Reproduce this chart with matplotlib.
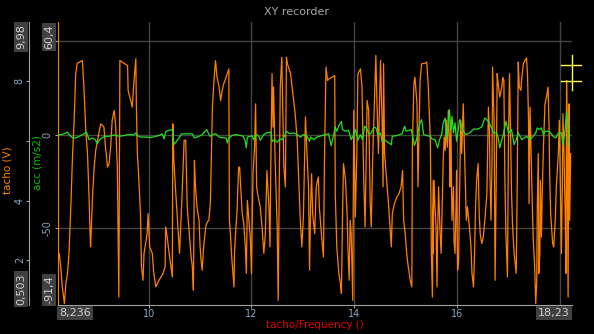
import matplotlib
matplotlib.use("Agg")
import matplotlib.pyplot as plt
from matplotlib.lines import Line2D

# ---- data ----
freq_min, freq_max = 8.236, 18.23
tacho_min, tacho_max = 0.503, 9.98
acc_min, acc_max = -91.4, 60.4

x_ticks = [10, 12, 14, 16, 18]
x_tick_labels = ["10", "12", "14", "16", ""]
tacho_ticks = [2, 4, 6, 8]
tacho_tick_labels = ["2", "4", "", "8"]
acc_ticks = [-50, 0, 50]
acc_tick_labels = ["-50", "0", ""]

tacho_freq = [
    8.26, 8.29, 8.32, 8.36, 8.39, 8.42, 8.45, 8.49, 8.52, 8.55, 8.58, 8.61, 8.71, 8.74, 8.78, 8.81, 8.84, 8.86, 8.87, 8.91,
    8.94, 8.97, 9.04, 9.07, 9.13, 9.16, 9.20, 9.23, 9.26, 9.29, 9.33, 9.36, 9.39, 9.42, 9.44, 9.59, 9.60, 9.65, 9.68, 9.71,
    9.75, 9.76, 9.78, 9.81, 9.84, 9.86, 9.89, 9.91, 9.97, 9.99, 10.02, 10.07, 10.10, 10.14, 10.20, 10.28, 10.32, 10.33, 10.36, 10.39,
    10.46, 10.47, 10.49, 10.52, 10.56, 10.60, 10.64, 10.69, 10.72,
    10.75, 10.78, 10.82, 10.85, 10.87, 10.88, 10.89, 10.91, 10.94, 10.98, 11.00, 11.02, 11.04, 11.07, 11.11, 11.14, 11.17, 11.20,
    11.24, 11.27, 11.30, 11.33, 11.37, 11.40, 11.43, 11.46, 11.53, 11.56, 11.57, 11.59, 11.62, 11.66, 11.67, 11.69, 11.72, 11.75,
    11.77, 11.79, 11.82, 11.85, 11.88, 11.90, 11.92, 11.95, 11.98, 12.00, 12.01, 12.03, 12.06, 12.08, 12.10, 12.12, 12.17, 12.21,
    12.24, 12.27, 12.30, 12.34, 12.36, 12.38, 12.40, 12.42, 12.43, 12.46, 12.50, 12.52, 12.54, 12.56, 12.59, 12.63, 12.66, 12.68,
    12.70, 12.76, 12.79, 12.82, 12.85, 12.89, 12.92, 12.95, 12.98, 13.01, 13.05, 13.08, 13.11,
    13.13, 13.15, 13.17, 13.19, 13.23, 13.26, 13.30, 13.32, 13.36, 13.40, 13.42, 13.45, 13.48, 13.51, 13.57, 13.62, 13.63, 13.66,
    13.70, 13.73, 13.75, 13.77, 13.79, 13.83, 13.86, 13.88, 13.90, 13.92, 13.94, 13.97, 13.99, 14.02, 14.05, 14.07, 14.12, 14.15,
    14.18, 14.21, 14.25, 14.28, 14.31, 14.33, 14.36, 14.40, 14.42, 14.44, 14.47, 14.51, 14.54, 14.56, 14.57, 14.59, 14.61, 14.63,
    14.67, 14.70, 14.72, 14.74, 14.78, 14.83, 14.87, 14.91, 14.94, 14.96, 14.99, 15.02, 15.05, 15.09, 15.12, 15.13, 15.16, 15.18,
    15.22, 15.24, 15.28, 15.31, 15.38, 15.41, 15.44, 15.48, 15.50, 15.52, 15.54,
    15.53, 15.55, 15.57, 15.59, 15.61, 15.62, 15.64, 15.67, 15.69, 15.71, 15.73, 15.75, 15.77, 15.79, 15.81, 15.83, 15.85, 15.86,
    15.88, 15.90, 15.93, 15.94, 15.96, 15.98, 15.99, 16.01, 16.03, 16.05, 16.07, 16.09, 16.12, 16.16, 16.18, 16.20, 16.24, 16.27,
    16.29, 16.32, 16.34, 16.36, 16.38, 16.41, 16.43, 16.45, 16.48, 16.51, 16.54, 16.58, 16.61, 16.63, 16.64, 16.66, 16.68, 16.69,
    16.72, 16.74, 16.76, 16.78, 16.80, 16.83, 16.87, 16.89, 16.91, 16.93, 16.95, 16.98, 17.00, 17.02, 17.04, 17.06, 17.08, 17.11,
    17.15, 17.17, 17.19, 17.21, 17.24, 17.26, 17.29, 17.32, 17.35, 17.37, 17.39, 17.40, 17.42, 17.44, 17.46, 17.48, 17.51, 17.53,
    17.55, 17.56, 17.58, 17.59, 17.61, 17.62, 17.64, 17.66, 17.68, 17.71, 17.74, 17.77, 17.79, 17.80, 17.82, 17.86, 17.88, 17.91,
    17.93, 17.97, 17.99, 18.01, 18.03, 18.05, 18.06, 18.08, 18.10, 18.12, 18.13, 18.14, 18.16, 18.17, 18.18, 18.19, 18.21,
]
tacho_v = [
    2.23, 1.78, 1.11, 0.55, 1.22, 1.56, 2.23, 4.01, 5.57, 6.69, 8.25, 8.60, 8.69, 7.80, 6.24, 5.57, 4.12, 2.89, 2.45, 4.23,
    5.12, 5.68, 6.35, 6.57, 6.46, 5.79, 5.12, 5.24, 5.79, 6.69, 7.02, 6.46, 5.12, 0.77, 8.69, 8.52, 7.69, 7.35, 7.13, 7.91,
    8.75, 7.24, 5.57, 4.68, 3.56, 1.78, 1.33, 2.23, 2.89, 3.56, 2.45, 2.23, 1.56, 1.11, 1.33, 1.56, 1.78, 3.12, 2.78, 2.34,
    1.44, 6.57, 5.35, 4.46, 3.34, 2.23, 3.79, 6.02, 6.02,
    3.79, 3.12, 2.23, 1.78, 1.00, 2.89, 5.35, 4.46, 3.79, 3.34, 2.45, 2.00, 1.67, 2.45, 3.12, 3.28, 3.34, 3.90,
    7.13, 8.02, 8.69, 8.13, 7.80, 7.35, 7.69, 7.91, 8.25, 8.41, 3.34, 2.89, 2.00, 1.11, 2.23, 2.89, 3.67, 5.12,
    5.12, 4.46, 3.56, 3.23, 2.45, 1.56, 4.01, 3.34, 2.67, 1.56, 2.89, 4.90, 5.79, 7.24, 4.46, 4.23, 3.79, 3.01,
    2.23, 2.89, 5.01, 3.79, 2.45, 5.79, 8.25, 6.46, 7.80, 5.35, 3.12, 0.66, 4.46, 7.80, 8.80, 5.12, 4.46, 8.80,
    8.58, 8.25, 7.80, 7.35, 6.91, 6.02, 4.68, 3.34, 2.45, 3.45, 6.80, 5.57, 4.46,
    1.67, 3.79, 4.90, 3.56, 2.89, 4.46, 4.79, 3.79, 2.89, 2.11, 5.35, 8.47, 8.02, 8.08, 8.13, 8.19, 4.23, 2.45,
    1.56, 1.22, 0.89, 3.34, 5.24, 4.68, 3.56, 2.23, 1.33, 3.34, 2.89, 0.66, 7.02, 3.45, 5.57, 8.25, 8.41, 7.80,
    5.01, 3.12, 7.35, 7.02, 3.90, 3.12, 5.57, 7.69, 8.86, 7.35, 5.57, 8.69, 6.69, 4.46, 8.58, 5.57, 5.12, 4.68,
    3.79, 3.01, 2.45, 3.56, 3.90, 4.12, 4.23, 4.46, 5.01, 3.34, 2.89, 2.23, 1.78, 1.33, 1.11, 5.79, 7.91, 8.13,
    7.24, 4.46, 8.02, 8.58, 8.60, 8.64, 7.80, 6.02, 2.23, 0.77, 4.68,
    2.23, 4.68, 3.79, 3.12, 1.11, 2.78, 4.46, 2.89, 2.23, 3.79, 5.35, 6.13, 5.68, 6.69, 5.79, 7.02, 6.02, 4.46,
    6.69, 3.34, 4.46, 2.67, 2.23, 3.90, 5.01, 1.67, 2.00, 4.46, 6.69, 5.57, 7.24, 4.68, 3.34, 3.79, 3.12, 2.45,
    1.56, 1.11, 2.23, 3.79, 4.68, 5.24, 3.56, 2.89, 2.56, 2.78, 3.34, 4.23, 7.13, 6.35, 4.79, 3.34, 5.35, 8.47,
    6.69, 1.33, 4.46, 8.25, 7.91, 7.47, 7.80, 8.13, 8.02, 4.68, 2.89, 1.44, 6.13, 8.25, 6.35, 4.23, 3.12, 2.23,
    1.56, 4.46, 8.64, 7.80, 7.69, 8.13, 8.58, 8.69, 8.78, 8.25, 6.69, 3.90, 7.13, 5.57, 4.12, 2.78, 1.78, 0.55,
    1.33, 3.79, 5.57, 1.56, 2.23, 4.68, 2.78, 4.46, 5.79, 7.24, 7.47, 7.80, 6.46, 5.01, 3.56, 2.56, 2.45, 3.34,
    4.46, 5.57, 6.69, 4.46, 2.23, 4.79, 6.91, 5.57, 3.79, 1.56, 8.02, 6.69, 0.77, 5.57, 7.24, 3.34, 5.57,
]

acc_freq = [
    8.24, 8.32, 8.42, 8.45, 8.52, 8.58, 8.65, 8.74, 8.79, 8.84, 8.91, 8.96, 9.00, 9.04, 9.09, 9.15, 9.23, 9.33, 9.42, 9.52,
    9.59, 9.65, 9.71, 9.75, 9.78, 9.84, 9.94, 10.04, 10.14, 10.23, 10.26, 10.30, 10.33, 10.39, 10.46, 10.49, 10.59, 10.64, 10.72,
    10.85, 10.89, 10.98, 11.04, 11.13, 11.19, 11.24, 11.30, 11.37, 11.46, 11.51, 11.53, 11.56, 11.62, 11.69, 11.79, 11.84, 11.88,
    11.90, 11.92, 11.98, 12.01, 12.04, 12.10, 12.14, 12.17, 12.24, 12.29, 12.38, 12.40, 12.45, 12.50, 12.55, 12.60, 12.64, 12.68,
    12.74, 12.82, 12.89, 12.95, 13.01, 13.08, 13.13,
    13.15, 13.21, 13.28, 13.37, 13.44, 13.50, 13.55, 13.60, 13.63, 13.66, 13.70, 13.75, 13.77, 13.83, 13.89, 13.94, 13.99, 14.02,
    14.07, 14.12, 14.16, 14.20, 14.25, 14.29, 14.33, 14.38, 14.42, 14.46, 14.51, 14.54, 14.60, 14.65, 14.72, 14.74, 14.83, 14.93,
    14.98, 15.01, 15.11, 15.13, 15.17, 15.22, 15.25, 15.28, 15.31, 15.35, 15.41, 15.48,
    15.51, 15.57, 15.62, 15.66, 15.70, 15.73, 15.77, 15.80, 15.83, 15.85, 15.88, 15.90, 15.93, 15.96, 15.99, 16.05, 16.09, 16.12,
    16.17, 16.25, 16.32, 16.41, 16.48, 16.54, 16.61, 16.67, 16.71, 16.77, 16.80, 16.83, 16.87, 16.90, 16.95, 17.00, 17.06, 17.11,
    17.15, 17.19, 17.26, 17.35, 17.42, 17.48, 17.53, 17.56, 17.60, 17.64, 17.68, 17.71, 17.77, 17.82, 17.87, 17.92, 17.97, 18.03,
    18.06, 18.10, 18.13, 18.16, 18.19,
]
acc_ms2 = [
    0, 0, 1.3, 0, -1.8, -1.8, -0.9, 0.4, 1.4, -2.7, -1.8, -2.7, -4.8, -3.0, -1.8, -0.9, -0.9, -0.2, -0.9, -0.5,
    0, 0, -0.2, 0.9, -0.5, -1.3, -1.3, -1.6, -0.9, -0.2, 0.5, -2.3, 1.6, 2.3, 2.7, -5.4, -1.8, 0.4, 0.4,
    0.4, -1.8, -0.9, 0, 2.7, -0.9, 0, 0.5, -1.3, -1.8, -1.8, -4.5, -1.8, -0.5, 0, -0.5, -0.9, -3.6,
    -7.1, -1.3, -0.9, -0.5, -2.7, 0, -0.9, -3.0, 0, 0.9, 1.3, -3.6, -2.7, -4.1, -2.3, -2.7, -0.9, 1.8,
    0.5, 0.9, 0, -1.3, 0, -0.9, -3.6,
    -1.3, -2.7, -1.3, -0.5, 0, 0.5, -5.9, 0, 4.1, 1.8, 4.8, 7.1, 2.7, 1.8, 2.3, -2.7, 0, 2.7,
    -3.0, 0, -2.7, 4.5, 3.0, 0, 0.9, 4.1, 3.6, 0, 0.9, -3.6, -3.0, -4.1, -5.4, -0.9, -0.5, 0.5,
    4.5, 1.8, 2.7, 0, -5.9, -1.8, 2.7, 6.3, 8.0, 0, -0.5, -0.9,
    -2.3, -2.7, -7.1, -2.7, 0, 6.3, 8.9, -2.7, 6.3, 13.4, 2.7, 9.8, 0.9, 6.3, -3.6, 8.0, 4.5, 1.8,
    0, 0.9, 3.0, 3.0, 4.1, 8.9, 7.1, 3.6, 0.9, 0.9, -1.8, -7.1, -2.7, 0, 7.1, 0.9, 2.7, -5.4,
    -2.7, 0.9, -2.7, -0.9, -2.7, -0.9, 0.9, 3.6, 2.7, 3.6, 0, 1.8, 1.8, 0.9, -0.9, -1.8, 0.9, 0.9,
    -5.4, 1.8, 12.5, 4.5, -6.3,
]

# ---- styling ----
BG = "black"
ORANGE = "#ff8000"
GREEN = "#22e022"
GRID = "#444444"
AXIS = "#a0a0a0"
TICKTXT = "#8fa6c0"
BOXBG = "#404040"
BOXTXT = "#d0d0d0"

W, H = 594, 334
fig = plt.figure(figsize=(W / 100, H / 100), dpi=100, facecolor=BG)

L, R, T, B = 58, 571.7, 22, 305
rect = [L / W, (H - B) / H, (R - L) / W, (B - T) / H]

# acc axis (bottom layer, carries grid)
ax = fig.add_axes(rect)
ax.set_facecolor(BG)
ax.set_xlim(freq_min, freq_max)
ax.set_ylim(acc_min, acc_max)
ax.set_xticks(x_ticks)
ax.set_xticklabels(x_tick_labels)
ax.set_yticks(acc_ticks)
ax.set_yticklabels(acc_tick_labels, rotation=90, va="center")
ax.grid(True, color=GRID, linewidth=1)
for s in ["top", "right"]:
    ax.spines[s].set_visible(False)
ax.spines["bottom"].set_color(AXIS)
ax.spines["left"].set_color(ORANGE)
ax.tick_params(axis="x", colors=AXIS, labelcolor=TICKTXT, labelsize=7, length=2, pad=1)
ax.tick_params(axis="y", colors=AXIS, labelcolor=TICKTXT, labelsize=7, length=2, pad=2)

# tacho axis (orange line)
axt = ax.twinx()
axt.set_ylim(tacho_min, tacho_max)
axt.set_xlim(freq_min, freq_max)
axt.yaxis.tick_left()
axt.spines["left"].set_visible(True)
axt.spines["left"].set_position(("outward", (L - 29) * 0.72))
axt.spines["left"].set_color(AXIS)
for s in ["top", "right", "bottom"]:
    axt.spines[s].set_visible(False)
axt.set_yticks(tacho_ticks)
axt.set_yticklabels(tacho_tick_labels, rotation=90, va="center")
axt.tick_params(axis="y", colors=AXIS, labelcolor=TICKTXT, labelsize=7, length=2, pad=1)
axt.plot(tacho_freq, tacho_v, color=ORANGE, linewidth=0.9)

# acc line on top
axg = ax.twinx()
axg.set_ylim(acc_min, acc_max)
axg.set_xlim(freq_min, freq_max)
axg.axis("off")
axg.plot(acc_freq, acc_ms2, color=GREEN, linewidth=0.9)

# ---- texts ----
def px(x, y):
    return x / W, 1 - y / H

fig.text(*px(297, 12), "XY recorder", color="#a8a8a8", fontsize=8, ha="center", va="center")
fig.text(*px(315, 325), "tacho/Frequency ()", color="#e00000", fontsize=7.5, ha="center", va="center")
fig.text(*px(8, 170), "tacho (V)", color=ORANGE, fontsize=7.5, rotation=90, ha="center", va="center")
fig.text(*px(37, 163), "acc (m/s2)", color="#00c000", fontsize=7.5, rotation=90, ha="center", va="center")

box = dict(facecolor=BOXBG, edgecolor="none", pad=1.5)
fig.text(*px(21, 37), f"{tacho_max:g}".replace(".", ","), color=BOXTXT, fontsize=8, rotation=90,
         ha="center", va="center", bbox=box)
fig.text(*px(21, 289), f"{tacho_min:g}".replace(".", ","), color=BOXTXT, fontsize=8, rotation=90,
         ha="center", va="center", bbox=box)
fig.text(*px(49, 37), f"{acc_max:g}".replace(".", ","), color=BOXTXT, fontsize=8, rotation=90,
         ha="center", va="center", bbox=box)
fig.text(*px(49, 290), f"{acc_min:g}".replace(".", ","), color=BOXTXT, fontsize=8, rotation=90,
         ha="center", va="center", bbox=box)
fig.text(*px(75, 313), f"{freq_min:g}".replace(".", ","), color=BOXTXT, fontsize=8,
         ha="center", va="center", bbox=box)
fig.text(*px(554, 313), f"{freq_max:g}".replace(".", ","), color=BOXTXT, fontsize=8,
         ha="center", va="center", bbox=box)

# cursor cross (decoration)
cur = "#ffff60"
fig.add_artist(Line2D([571.7 / W, 571.7 / W], [1 - 55 / H, 1 - 90 / H], color=cur, lw=1, transform=fig.transFigure))
fig.add_artist(Line2D([561 / W, 581 / W], [1 - 65 / H, 1 - 65 / H], color=cur, lw=1, transform=fig.transFigure))
fig.add_artist(Line2D([561 / W, 581 / W], [1 - 81 / H, 1 - 81 / H], color=cur, lw=1, transform=fig.transFigure))

fig.savefig("out.png", dpi=100, facecolor=BG)
